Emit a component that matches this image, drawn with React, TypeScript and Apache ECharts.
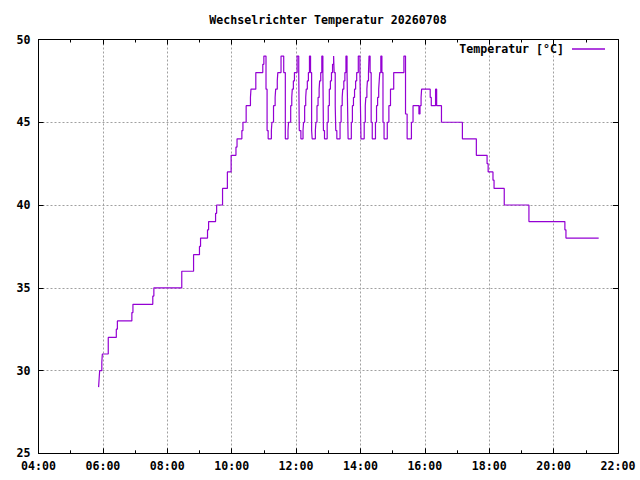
import React, { useEffect, useRef } from "react";
import * as echarts from "echarts";

const TITLE = "Wechselrichter Temperatur 20260708";
const SERIES_NAME = "Temperatur [°C]";

const TIMES = [
  "05:52", "05:53", "05:54", "05:58", "05:59", "06:10", "06:25", "06:27", "06:54", "06:56",
  "07:33", "07:35", "08:27", "08:49", "09:00", "09:02", "09:15", "09:17", "09:30", "09:32",
  "09:43", "09:52", "09:59", "10:08", "10:10", "10:19", "10:21", "10:27", "10:35", "10:36",
  "10:45", "10:58", "11:00", "11:04", "11:06", "11:08", "11:14", "11:15", "11:18", "11:21",
  "11:22", "11:25", "11:26", "11:32", "11:37", "11:40", "11:45", "11:46", "11:50", "11:52",
  "11:53", "11:55", "11:57", "12:02", "12:05", "12:06", "12:09", "12:13", "12:14", "12:16",
  "12:18", "12:19", "12:21", "12:23", "12:25", "12:27", "12:29", "12:30", "12:36", "12:37",
  "12:39", "12:41", "12:43", "12:44", "12:46", "12:48", "12:50", "12:51", "12:53", "12:58",
  "13:00", "13:02", "13:04", "13:06", "13:08", "13:10", "13:11", "13:13", "13:14", "13:16",
  "13:22", "13:24", "13:26", "13:27", "13:29", "13:31", "13:33", "13:35", "13:36", "13:37",
  "13:43", "13:45", "13:47", "13:49", "13:51", "13:53", "13:56", "13:59", "14:00", "14:01",
  "14:07", "14:09", "14:10", "14:12", "14:13", "14:15", "14:16", "14:18", "14:20", "14:22",
  "14:28", "14:30", "14:32", "14:34", "14:35", "14:36", "14:38", "14:40", "14:42", "14:44",
  "14:50", "14:53", "14:56", "15:02", "15:21", "15:24", "15:27", "15:35", "15:38", "15:49",
  "15:51", "15:53", "15:54", "16:10", "16:12", "16:20", "16:22", "16:31", "17:10", "17:36",
  "17:56", "17:58", "18:07", "18:09", "18:28", "19:14", "20:21", "20:23", "21:24",
];

const TEMPS = [
  29, 29.5, 30, 30.5, 31, 32, 32.5, 33, 33.5, 34,
  34.5, 35, 36, 37, 37.5, 38, 38.5, 39, 39.5, 40,
  41, 42, 43, 43.5, 44, 44.5, 45, 46, 46.5, 47,
  48, 48.5, 49, 47, 44.5, 44, 44.5, 45, 46, 46.5,
  47, 47.5, 48, 49, 48, 44, 44.5, 45, 46, 46.5,
  47, 47.5, 48, 49, 48, 44.5, 44, 44.5, 45, 46,
  46.5, 47, 47.5, 48, 49, 48, 44.5, 44, 44.5, 45,
  46, 46.5, 47, 47.5, 48, 49, 48, 44.5, 44, 45,
  46, 47, 47.5, 48, 48.5, 49, 48, 46, 44.5, 44,
  45, 46, 46.5, 47, 47.5, 48, 49, 48, 46, 44,
  45, 46, 46.5, 47, 47.5, 48, 49, 48, 46, 44,
  45, 46, 46.5, 47, 47.5, 48, 49, 48, 45, 44,
  45, 46, 46.5, 47, 47.5, 48, 49, 48, 45, 44,
  45, 46, 47, 48, 49, 45.5, 44, 45, 46, 45.5,
  46, 46.5, 47, 46.5, 46, 47, 46, 45, 44, 43,
  42.5, 42, 41.5, 41, 40, 39, 38.5, 38, 38,
];

const X_MIN = 4;
const X_MAX = 22;
const X_STEP = 2;
const Y_MIN = 25;
const Y_MAX = 50;
const Y_STEP = 5;

const FONT = "'DejaVu Sans Mono', 'Liberation Mono', monospace";
const FONT_SIZE = 11.6;
const LINE_COLOR = "#9400d3";

function toHours(s: string): number {
  const [h, m] = s.split(":").map(Number);
  return h + m / 60;
}

function hourLabel(v: number): string {
  const h = Math.round(v);
  return (h < 10 ? "0" : "") + h + ":00";
}

export default function App() {
  const ref = useRef<HTMLDivElement>(null);

  useEffect(() => {
    if (!ref.current) return;
    const chart = echarts.init(ref.current, null, { renderer: "svg" });
    const data = TIMES.map((t, i) => [toHours(t), TEMPS[i]]);
    const labelStyle = {
      color: "#000",
      fontFamily: FONT,
      fontWeight: "bold" as const,
      fontSize: FONT_SIZE,
    };
    const black = { color: "#000", width: 1 };
    chart.setOption({
      animation: false,
      backgroundColor: "#fff",
      title: {
        text: TITLE,
        left: 328,
        top: 13,
        textAlign: "center",
        padding: 0,
        textStyle: { ...labelStyle, lineHeight: 14 },
      },
      legend: {
        data: [SERIES_NAME],
        right: 35,
        top: 43,
        align: "right",
        icon: "rect",
        itemWidth: 33,
        itemHeight: 1.4,
        padding: 0,
        textStyle: { ...labelStyle, padding: [0, 3, 0, 0] },
      },
      grid: { left: 38.5, right: 22, top: 39.5, bottom: 26.7, containLabel: false },
      xAxis: [
        {
          type: "value",
          position: "bottom",
          min: X_MIN,
          max: X_MAX,
          interval: X_STEP,
          axisLine: { show: true, lineStyle: black },
          axisTick: { show: true, inside: true, length: 5, lineStyle: black },
          minorTick: { show: true, splitNumber: 2, length: 3, lineStyle: black },
          splitLine: { show: true, lineStyle: { color: "#a0a0a0", width: 1, type: [2, 2] } },
          axisLabel: { ...labelStyle, margin: 6, lineHeight: 13, formatter: hourLabel },
        },
        {
          type: "value",
          position: "top",
          min: X_MIN,
          max: X_MAX,
          interval: X_STEP,
          axisLine: { show: true, lineStyle: black },
          axisTick: { show: true, inside: true, length: 5, lineStyle: black },
          minorTick: { show: true, splitNumber: 2, length: 3, lineStyle: black },
          splitLine: { show: false },
          axisLabel: { show: false },
        },
      ],
      yAxis: [
        {
          type: "value",
          position: "left",
          min: Y_MIN,
          max: Y_MAX,
          interval: Y_STEP,
          axisLine: { show: true, lineStyle: black },
          axisTick: { show: true, inside: true, length: 5, lineStyle: black },
          splitLine: { show: true, lineStyle: { color: "#a0a0a0", width: 1, type: [2, 2] } },
          axisLabel: { ...labelStyle, margin: 8 },
        },
        {
          type: "value",
          position: "right",
          min: Y_MIN,
          max: Y_MAX,
          interval: Y_STEP,
          axisLine: { show: true, lineStyle: black },
          axisTick: { show: true, inside: true, length: 5, lineStyle: black },
          splitLine: { show: false },
          axisLabel: { show: false },
        },
      ],
      series: [
        {
          name: SERIES_NAME,
          type: "line",
          step: "end",
          xAxisIndex: 0,
          yAxisIndex: 0,
          data,
          symbol: "none",
          showSymbol: false,
          lineStyle: { color: LINE_COLOR, width: 1.2 },
          itemStyle: { color: LINE_COLOR },
        },
      ],
    });
    return () => chart.dispose();
  }, []);

  return (
    <div
      ref={ref}
      style={{ position: "absolute", left: 0, top: 0, width: 640, height: 480, background: "#fff" }}
    />
  );
}
